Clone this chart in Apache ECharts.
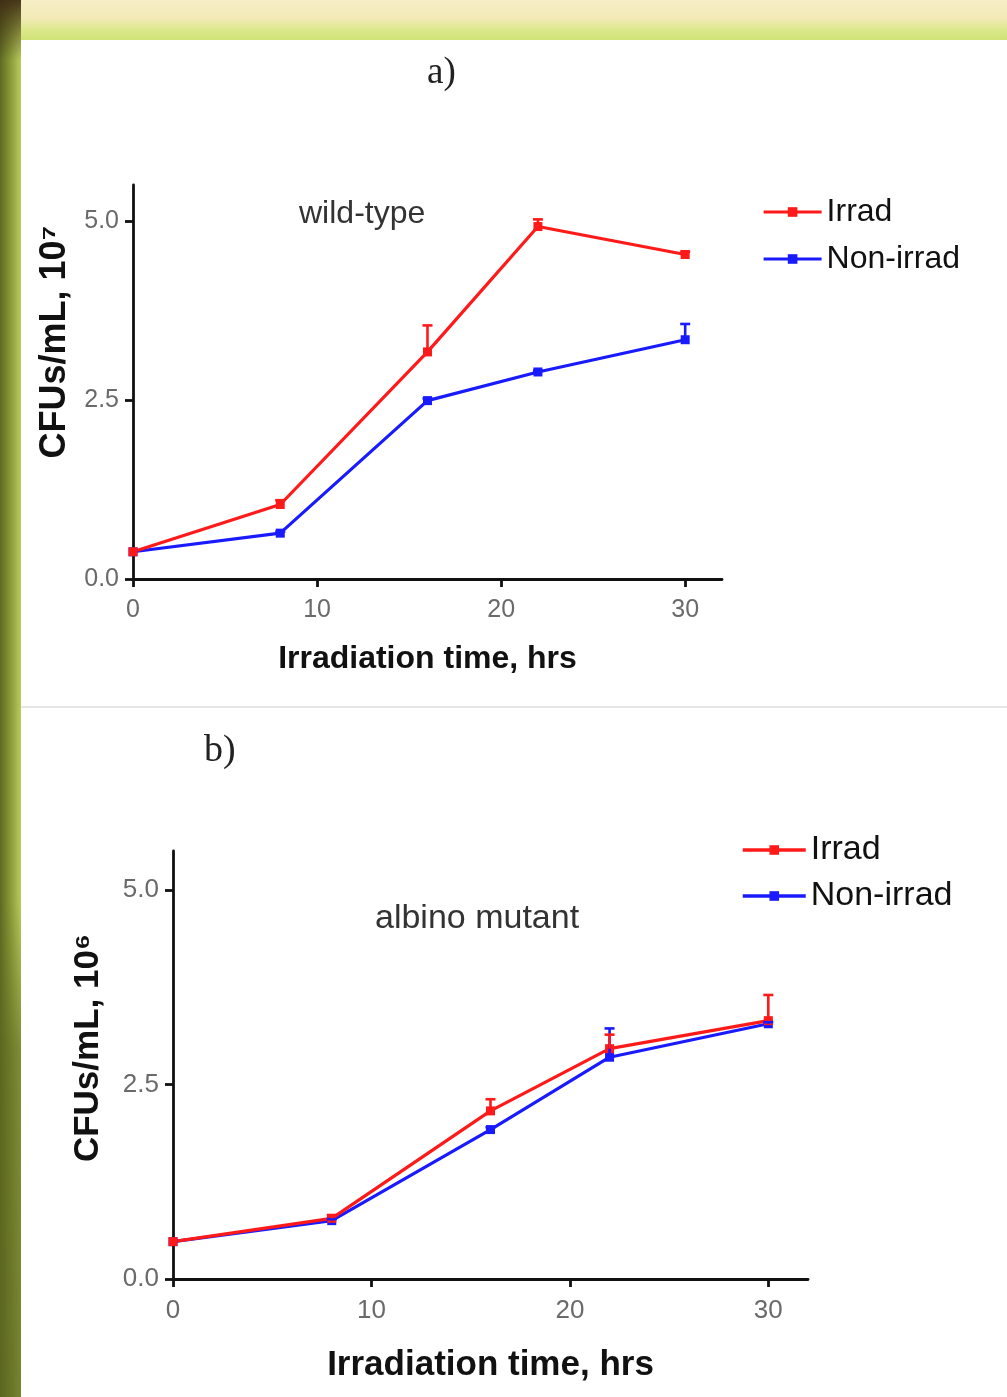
<!DOCTYPE html>
<html>
<head>
<meta charset="utf-8">
<script src="https://cdn.jsdelivr.net/npm/echarts@6/dist/echarts.min.js"></script>
<style>
html,body{margin:0;padding:0;background:#fff;}
#c{width:1007px;height:1397px;}
</style>
</head>
<body>
<div id="c"></div>
<script>
// ---- data ----
const hours = [0, 8, 16, 22, 30];
const xTicks = [0, 10, 20, 30];
const yTicks = [0.0, 2.5, 5.0];
const seriesNames = ['Irrad', 'Non-irrad'];
// panel a) wild-type
const wtIrrad    = [0.38, 1.04, 3.17, 4.92, 4.53];
const wtIrradErr = [0.00, 0.06, 0.37, 0.10, 0.04];
const wtNon      = [0.38, 0.64, 2.49, 2.89, 3.34];
const wtNonErr   = [0.00, 0.02, 0.03, 0.02, 0.22];
// panel b) albino mutant
const amIrrad    = [0.48, 0.78, 2.16, 2.96, 3.32];
const amIrradErr = [0.00, 0.04, 0.15, 0.18, 0.33];
const amNon      = [0.48, 0.75, 1.92, 2.85, 3.28];
const amNonErr   = [0.00, 0.02, 0.03, 0.37, 0.02];

const RED = '#ff1a1a', BLUE = '#1a1aff';
const tickFont = '"Liberation Sans", Arial, sans-serif';
const mainFont = '"Liberation Sans", Arial, sans-serif';

function pts(vals){ return hours.map((h,i)=>[h, vals[i]]); }
function errPts(vals, errs){ return hours.map((h,i)=>[h, vals[i], errs[i]]); }

function lineSeries(name, vals, color, idx){
  return {
    type:'line', name, xAxisIndex:idx, yAxisIndex:idx,
    data: pts(vals), symbol:'rect', symbolSize:9, showSymbol:true,
    lineStyle:{color, width:3.2}, itemStyle:{color}, z:3, animation:false
  };
}
function errSeries(name, vals, errs, color, idx){
  return {
    type:'custom', name, xAxisIndex:idx, yAxisIndex:idx,
    data: errPts(vals, errs), z:4, animation:false,
    renderItem(params, api){
      const x = api.value(0), y = api.value(1), e = api.value(2);
      if (!e) return null;
      const p0 = api.coord([x, y]);
      const p1 = api.coord([x, y + e]);
      const st = {stroke:color, lineWidth:2.6};
      return {type:'group', children:[
        {type:'line', shape:{x1:p0[0], y1:p0[1], x2:p1[0], y2:p1[1]}, style:st},
        {type:'line', shape:{x1:p1[0]-5, y1:p1[1], x2:p1[0]+5, y2:p1[1]}, style:st}
      ]};
    }
  };
}

function xAxis(idx, fs){
  return {
    type:'value', gridIndex:idx, min:0, max:32, interval:10,
    axisLine:{show:true, onZero:false, lineStyle:{color:'#111', width:2.8}},
    axisTick:{show:true, length:8, lineStyle:{color:'#111', width:2.8}},
    axisLabel:{show:true, color:'#6a6a6a', fontSize:fs, fontFamily:tickFont, margin:19, showMaxLabel:false,
      formatter:v => xTicks.includes(v) ? String(v) : ''},
    splitLine:{show:false}
  };
}
function yAxis(idx, fs){
  return {
    type:'value', gridIndex:idx, min:0, max:5.5, interval:2.5,
    axisLine:{show:true, onZero:false, lineStyle:{color:'#111', width:2.8}},
    axisTick:{show:true, length:8, lineStyle:{color:'#111', width:2.8}},
    axisLabel:{show:true, color:'#6a6a6a', fontSize:fs, fontFamily:tickFont, margin:14, showMaxLabel:false,
      formatter:v => yTicks.includes(v) ? v.toFixed(1) : ''},
    splitLine:{show:false}
  };
}

const chart = echarts.init(document.getElementById('c'), null, {renderer:'canvas'});
chart.setOption({
  animation:false,
  backgroundColor:'#ffffff',
  graphic:[
    {type:'rect', shape:{x:0, y:0, width:1007, height:40}, z:-10,
     style:{fill:new echarts.graphic.LinearGradient(0,0,0,1,[
       {offset:0, color:'#f6eec6'},{offset:0.45, color:'#f3eab8'},{offset:0.75, color:'#dbe88a'},{offset:1, color:'#d0e277'}])}},
    {type:'rect', shape:{x:0, y:0, width:21, height:1397}, z:-9,
     style:{fill:new echarts.graphic.LinearGradient(0,0,1,0,[
       {offset:0, color:'#5d6a22'},{offset:0.5, color:'#8a9a38'},{offset:1, color:'#b9cc5e'}])}},
    {type:'rect', shape:{x:0, y:0, width:21, height:60}, z:-8,
     style:{fill:new echarts.graphic.LinearGradient(0,0,0,1,[
       {offset:0, color:'rgba(60,40,20,0.9)'},{offset:1, color:'rgba(60,40,20,0)'}])}},
    {type:'rect', shape:{x:0, y:900, width:21, height:497}, z:-8,
     style:{fill:new echarts.graphic.LinearGradient(0,0,0,1,[
       {offset:0, color:'rgba(90,100,30,0)'},{offset:0.3, color:'rgba(90,100,30,0.6)'},{offset:1, color:'rgba(90,100,30,0.7)'}])}},
    {type:'line', shape:{x1:21, y1:707, x2:1007, y2:707}, z:-5, style:{stroke:'#e6e6e6', lineWidth:2}},
    {type:'text', left:427, top:55, style:{text:'a)', font:'37px "Liberation Serif", "DejaVu Serif", serif', fill:'#222'}},
    {type:'text', left:204, top:732, style:{text:'b)', font:'38px "Liberation Serif", "DejaVu Serif", serif', fill:'#222'}},
    {type:'text', left:299, top:198, style:{text:'wild-type', font:'32px '+mainFont, fill:'#333'}},
    {type:'text', left:375, top:902, style:{text:'albino mutant', font:'34px '+mainFont, fill:'#333'}},
    {type:'text', x:55, y:342, rotation:Math.PI/2,
     style:{text:'CFUs/mL, 10⁷', font:'bold 36px '+mainFont, fill:'#111', align:'center', verticalAlign:'middle'}},
    {type:'text', x:88, y:1048, rotation:Math.PI/2,
     style:{text:'CFUs/mL, 10⁶', font:'bold 35px '+mainFont, fill:'#111', align:'center', verticalAlign:'middle'}}
  ],
  grid:[
    {left:133, top:185, width:589, height:394},
    {left:173, top:851, width:635, height:428}
  ],
  legend:[
    {orient:'vertical', left:757, top:191, itemWidth:58, itemHeight:12, itemGap:15,
     lineStyle:{width:3.2}, data:seriesNames, textStyle:{fontSize:32, fontFamily:mainFont, color:'#111'}},
    {orient:'vertical', left:736, top:828, itemWidth:63, itemHeight:12, itemGap:12,
     lineStyle:{width:3.5}, data:seriesNames, textStyle:{fontSize:34, fontFamily:mainFont, color:'#111'}}
  ],
  xAxis:[
    Object.assign(xAxis(0, 25), {name:'Irradiation time, hrs', nameLocation:'middle', nameGap:64,
      nameTextStyle:{fontSize:32, fontWeight:'bold', fontFamily:mainFont, color:'#111'}}),
    Object.assign(xAxis(1, 26), {name:'Irradiation time, hrs', nameLocation:'middle', nameGap:69,
      nameTextStyle:{fontSize:35, fontWeight:'bold', fontFamily:mainFont, color:'#111'}})
  ],
  yAxis:[
    yAxis(0, 25),
    yAxis(1, 26)
  ],
  series:[
    lineSeries('Non-irrad', wtNon, BLUE, 0),
    lineSeries('Irrad', wtIrrad, RED, 0),
    errSeries('Non-irrad', wtNon, wtNonErr, BLUE, 0),
    errSeries('Irrad', wtIrrad, wtIrradErr, RED, 0),
    lineSeries('Non-irrad', amNon, BLUE, 1),
    lineSeries('Irrad', amIrrad, RED, 1),
    errSeries('Non-irrad', amNon, amNonErr, BLUE, 1),
    errSeries('Irrad', amIrrad, amIrradErr, RED, 1)
  ]
});
</script>
</body>
</html>
